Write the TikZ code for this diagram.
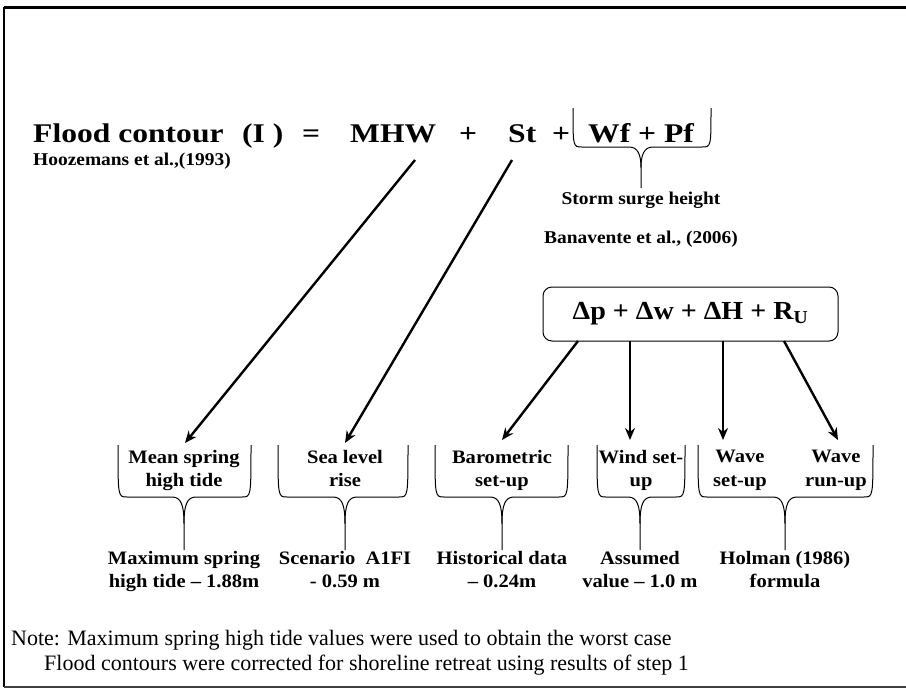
\documentclass[tikz,border=0pt]{standalone}
\usepackage{fontspec}
\setmainfont{Liberation Serif}
\newfontfamily\dfont[FakeStretch=1.08,Ligatures=TeX]{Liberation Serif}
\newfontfamily\bigfont[FakeStretch=1.17,Ligatures=TeX]{Liberation Serif}
\usetikzlibrary{arrows.meta}
\newcommand\dnbrace[6]{% left, centre, right, top, bar, tip
  \draw[bracestyle] (#1,#4) .. controls (#1,#5) and (#1,#5) .. ({#1+9},#5) -- ({#2-12},#5)
     .. controls ({#2-3},#5) and (#2,{#5+8}) .. (#2,{(#5+#6)/2}) -- (#2,#6);
  \draw[bracestyle] (#3,#4) .. controls (#3,#5) and (#3,#5) .. ({#3-9},#5) -- ({#2+12},#5)
     .. controls ({#2+3},#5) and (#2,{#5+8}) .. (#2,{(#5+#6)/2});
}
\begin{document}
\begin{tikzpicture}[x=1pt,y=-1pt,
  big/.style={font=\bigfont\bfseries\fontsize{27}{30}\selectfont, inner sep=0pt, anchor=base west},
  mid/.style={font=\dfont\bfseries\fontsize{18}{21}\selectfont, inner sep=0pt},
  lbl/.style={font=\dfont\bfseries\fontsize{19}{23.5}\selectfont, align=center, inner sep=0pt, anchor=north},
  note/.style={font=\fontsize{22}{25}\selectfont, inner sep=0pt, anchor=base west},
  arr/.style={line width=2.4pt, -{Stealth[length=12pt,width=10pt]}},
  bracestyle/.style={line width=1pt, line join=round}]
\useasboundingbox (0,0) rectangle (906,688);
% frame
\draw[line width=3pt] (4,7) -- (906,7);
\draw[line width=2.5pt] (4,7) -- (4,687);
\draw[line width=2pt, black!75] (4,687) -- (906,687);
% formula
\node[big] (fc) at (33,142) {Flood contour};
\node[big] (one) at (242,142) {(I )};
\node[big] (eq) at (302,142) {=};
\node[big] (mhw) at (350,142) {MHW};
\node[big] (p1) at (459,142) {+};
\node[big] (st) at (508,142) {St};
\node[big] (p2) at (552,142) {+};
\node[big] (wfpf) at (588,142) {Wf + Pf};
\node[mid, anchor=base west] (hooz) at (33,165) {Hoozemans et al.,(1993)};
% top brace
\dnbrace{573}{641}{711}{108}{147}{188}
\node[mid, anchor=base] (ssh) at (641,204) {Storm surge height};
\node[mid, anchor=base] (ban) at (641,243) {Banavente et al., (2006)};
% box
\node[draw, line width=1pt, rounded corners=9pt, minimum width=295pt, minimum height=54pt,
      inner sep=0pt, font=\dfont\bfseries\fontsize{26}{30}\selectfont] (box) at (690.5,314) {Δp + Δw + ΔH + R\textsubscript{U}};
% arrows
\coordinate (a1s) at (415,160);
\coordinate (a2s) at (512,160);
\draw[arr] (a1s) -- (185,443);
\draw[arr] (a2s) -- (345,443);
\coordinate (b1) at (578,341);
\coordinate (b2) at (630,341);
\coordinate (b3) at (723,341);
\coordinate (b4) at (784,341);
\draw[arr] (b1) -- (502,440);
\draw[arr] (b2) -- (630,440);
\draw[arr] (b3) -- (723,440);
\draw[arr] (b4) -- (838,440);
% bottom braces
\dnbrace{118}{184}{251}{445}{497}{550}
\dnbrace{278}{345}{408}{445}{497}{550}
\dnbrace{435}{502}{568}{445}{497}{550}
\dnbrace{597}{640}{685}{445}{497}{550}
\dnbrace{698}{785}{873}{445}{497}{550}
\node[lbl] (msht) at (184,450) {Mean spring\\high tide};
\node[lbl] (slr) at (345,450) {Sea level\\rise};
\node[lbl] (bar) at (502,450) {Barometric\\set-up};
\node[lbl] (wind) at (641,450) {Wind set-\\up};
\node[lbl] (wsu) at (740,450) {Wave\\set-up};
\node[lbl] (wru) at (836,450) {Wave\\run-up};
\node[lbl] (r1) at (184,551) {Maximum spring\\high tide – 1.88m};
\node[lbl] (r2) at (345,551) {Scenario\ \ A1FI\\- 0.59 m};
\node[lbl] (r3) at (502,551) {Historical data\\– 0.24m};
\node[lbl] (r4) at (640,551) {Assumed\\value – 1.0 m};
\node[lbl] (r5) at (785,551) {Holman (1986)\\formula};
% note
\node[note] (n1) at (11,645) {Note: Maximum spring high tide values were used to obtain the worst case};
\node[note] (n2) at (44,670) {Flood contours were corrected for shoreline retreat using results of step 1};
\end{tikzpicture}
\end{document}
